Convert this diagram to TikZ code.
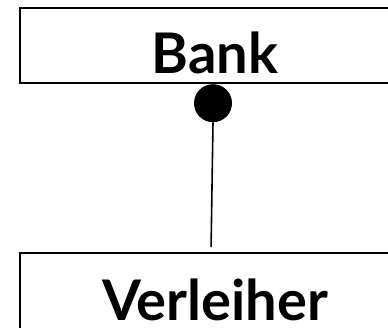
\documentclass[tikz,border=0pt]{standalone}
\usepackage{fontspec}
\setmainfont{Lato}
\begin{document}
\begin{tikzpicture}[x=1pt,y=-1pt,
  entity/.style={draw=black, line width=2pt, fill=white, inner sep=0pt,
    minimum width=390pt, text depth=10pt, text height=65pt,
    font=\fontsize{56}{60}\selectfont\bfseries, anchor=base},
  onedot/.style={circle, fill=black, draw=none, minimum size=38pt, inner sep=0pt},
  conn/.style={draw=black, line width=1.6pt}]
\useasboundingbox (0,0) rectangle (388,327);
\clip (0,0) rectangle (388,327);
\node[entity] (bank) at (215,73) {Bank};
\node[entity, text height=67pt, text depth=40pt] (verl) at (215,320) {Verleiher};
\node[onedot, anchor=north] (dot) at ([xshift=-2pt]bank.south) {};
\draw[conn, shorten >=5pt] (dot.south) -- ([xshift=-4pt]verl.north);
\end{tikzpicture}
\end{document}
